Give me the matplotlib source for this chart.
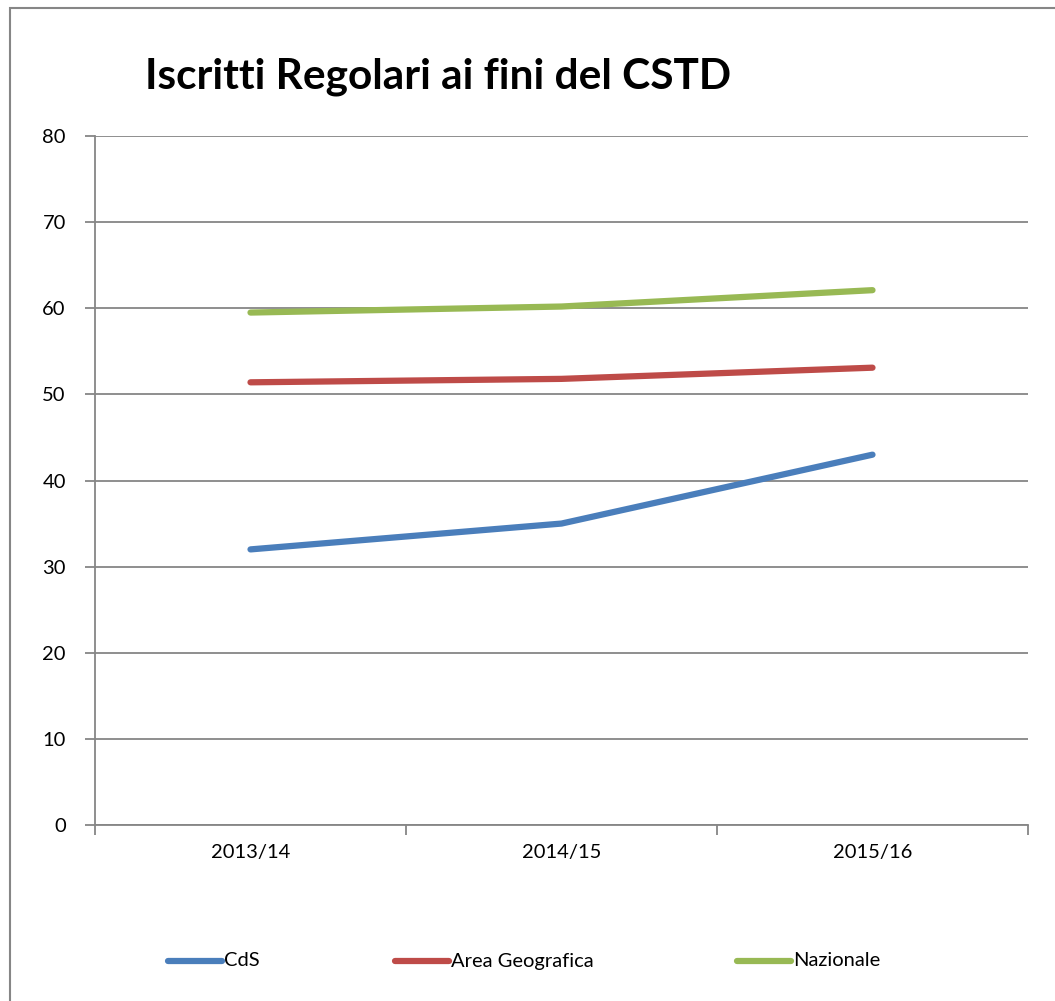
import matplotlib.pyplot as plt
from matplotlib.patches import Rectangle
from matplotlib.lines import Line2D

anni = ["2013/14", "2014/15", "2015/16"]
cds = [32.0, 35.0, 43.0]
area_geo = [51.4, 51.8, 53.1]
nazionale = [59.5, 60.2, 62.1]

serie_nomi = ["CdS", "Area Geografica", "Nazionale"]
colori = ["#4a7ebb", "#be4b48", "#98b954"]

plt.rcParams['font.family'] = ['Lato', 'DejaVu Sans']

W, H = 1055, 1001
fig = plt.figure(figsize=(W / 100, H / 100), dpi=100)

# bordo del grafico (stile Excel), tagliato a destra e in basso
fig.patches.append(Rectangle((10 / W, -0.2), 1.2, 1.2 - 8 / H,
                             transform=fig.transFigure, fill=False,
                             edgecolor="#868686", linewidth=1.5))

ax = fig.add_axes([95 / W, 1 - 825 / H, (1028 - 95) / W, (825 - 136) / H])

x = range(len(anni))
for vals, col in zip([cds, area_geo, nazionale], colori):
    ax.plot(x, vals, color=col, linewidth=4.5, solid_capstyle='round', zorder=3)

ax.set_xlim(-0.5, len(anni) - 0.5)
ax.set_ylim(0, 80)
ax.set_yticks(range(0, 81, 10))
ax.yaxis.grid(True, color="#868686", linewidth=1.3)
ax.set_axisbelow(True)

ax.set_xticks([i - 0.5 for i in range(len(anni) + 1)])
ax.set_xticklabels([])
ax.set_xticks(list(x), minor=True)
ax.set_xticklabels(anni, minor=True)
ax.tick_params(axis='x', which='major', length=7, color="#868686", width=1.3)
ax.tick_params(axis='x', which='minor', length=0, pad=14, labelsize=14.5)
ax.tick_params(axis='y', length=7, color="#868686", width=1.3, labelsize=14.5, pad=14)

for s in ["top", "right"]:
    ax.spines[s].set_visible(False)
for s in ["left", "bottom"]:
    ax.spines[s].set_color("#868686")
    ax.spines[s].set_linewidth(1.3)

fig.text(145 / W, 1 - 77 / H, "Iscritti Regolari ai fini del CSTD",
         fontsize=30.5, fontweight='bold', va='center', ha='left')

leg_x = [168, 395, 737]
for h_x, nome, col in zip(leg_x, serie_nomi, colori):
    fig.lines.append(Line2D([h_x / W, (h_x + 54) / W], [1 - 961 / H, 1 - 961 / H],
                            transform=fig.transFigure, color=col, linewidth=4.5,
                            solid_capstyle='round'))
    fig.text((h_x + 56) / W, 1 - 961 / H, nome, fontsize=14.5, va='center', ha='left')

fig.savefig("out.png", dpi=100)
